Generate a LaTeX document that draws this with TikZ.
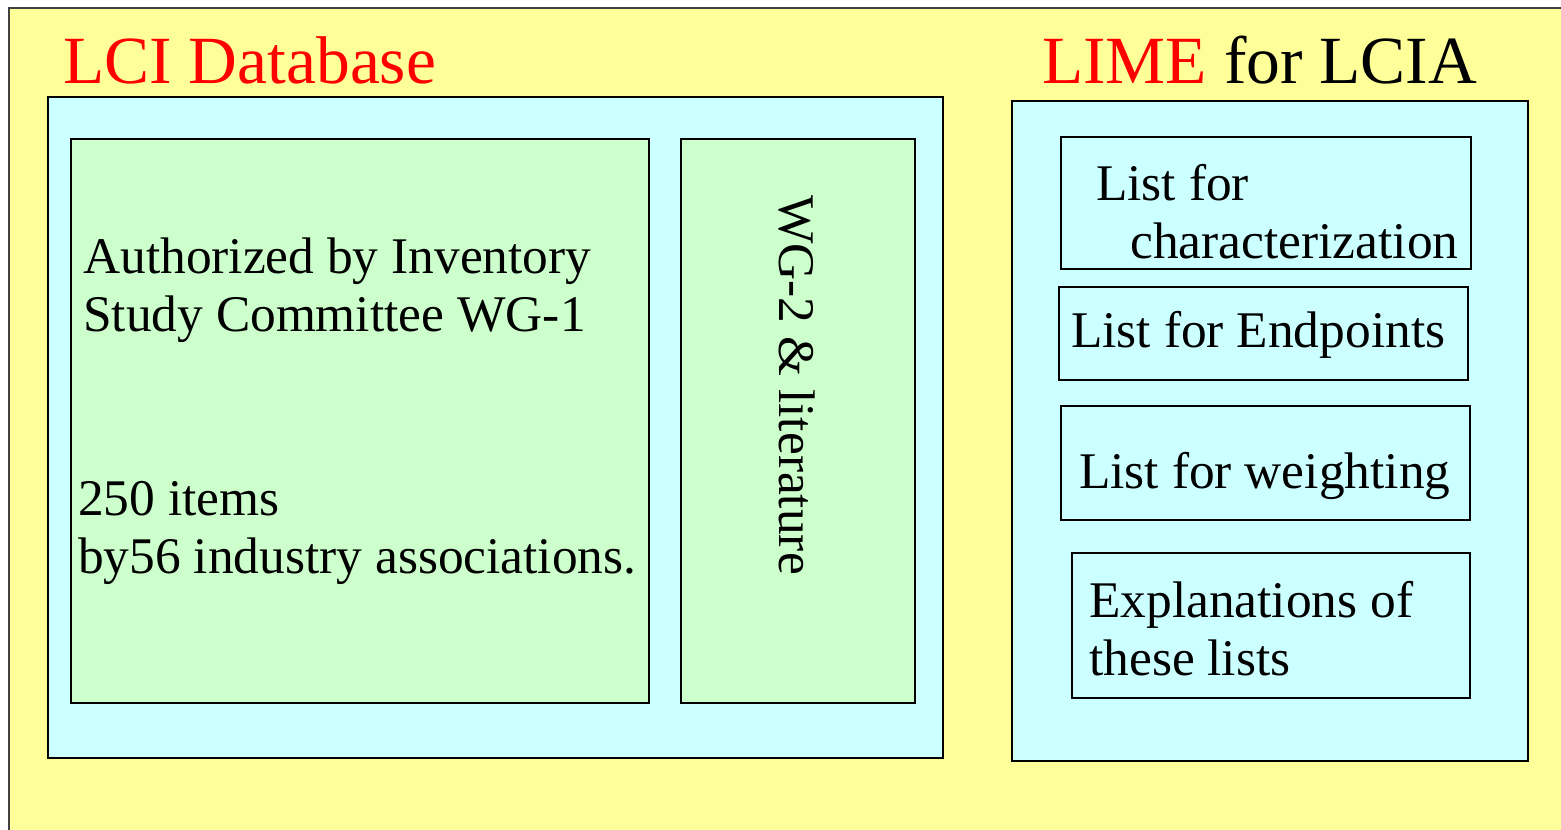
\documentclass[tikz,border=0pt]{standalone}
\usepackage{fontspec}
\setmainfont{Liberation Serif}
\definecolor{bgyellow}{HTML}{FFFF99}
\definecolor{bgcyan}{HTML}{CCFFFF}
\definecolor{bggreen}{HTML}{CCFFCC}
\definecolor{titlered}{HTML}{FF0000}
\begin{document}
\begin{tikzpicture}[x=1pt,y=-1pt,
  outerbox/.style={fill=bgyellow,draw=black!75,line width=1.5pt},
  panel/.style={fill=bgcyan,draw=black,line width=1.8pt},
  greenbox/.style={fill=bggreen,draw=black,line width=1.5pt},
  listbox/.style={fill=bgcyan,draw=black,line width=1.3pt},
  txt/.style={anchor=base west,inner sep=0pt,font=\fontsize{51.4}{58}\selectfont},
  ttl/.style={anchor=base west,inner sep=0pt,font=\fontsize{67.5}{75}\selectfont}]
\useasboundingbox (0,0) rectangle (1561,830);
\clip (0,0) rectangle (1561,830);
% background
\path[outerbox] (9,8) rectangle (1575,845);
% titles
\node[ttl,text=titlered] (t1) at (63,83) {LCI Database};
\node[ttl] (t2) at (1042,83) {\textcolor{titlered}{LIME} for LCIA};
% LCI panel
\path[panel] (48,97) rectangle (943,758);
\path[greenbox] (71,139) rectangle (649,703);
\path[greenbox] (681,139) rectangle (915,703);
\node[txt] (a1) at (83,273) {Authorized by Inventory};
\node[txt] (a2) at (83,331) {Study Committee WG-1};
\node[txt] (b1) at (78,515) {250 items};
\node[txt] (b2) at (78,573) {by56 industry associations.};
\node[txt,rotate=-90] (w) at (779,195) {WG-2 \& literature};
% LIME panel
\path[panel] (1012,101) rectangle (1528,761);
\path[listbox] (1061,137) rectangle (1471,269);
\path[listbox] (1059,287) rectangle (1468,380);
\path[listbox] (1061,406) rectangle (1470,520);
\path[listbox] (1072,553) rectangle (1470,698);
\node[txt] (l1) at (1096,200) {List for};
\node[txt] (l2) at (1130,258) {characterization};
\node[txt] (l3) at (1071,347) {List for Endpoints};
\node[txt] (l4) at (1079,488) {List for weighting};
\node[txt] (l5) at (1089,617) {Explanations of};
\node[txt] (l6) at (1089,675) {these lists};
\end{tikzpicture}
\end{document}
